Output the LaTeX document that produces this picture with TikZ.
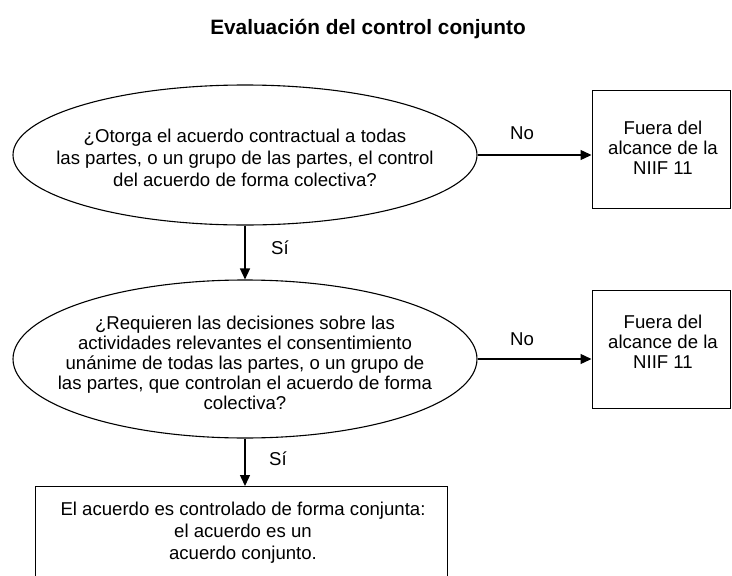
\documentclass[tikz,border=0pt]{standalone}
\usepackage{fontspec}
\setmainfont{Liberation Sans}
\usetikzlibrary{shapes.geometric,arrows.meta}
\begin{document}
\begin{tikzpicture}[x=1pt,y=-1pt,
  txt/.style={font=\fontsize{18.6}{22}\selectfont, align=center, inner sep=0pt},
  question/.style={ellipse, draw, line width=1.1pt, minimum width=464pt, inner sep=0pt},
  outbox/.style={rectangle, draw, line width=1pt, minimum width=138pt, minimum height=118pt, inner sep=0pt},
  flow/.style={line width=1.4pt, -{Triangle[length=11pt,width=10pt]}},
  lbl/.style={font=\fontsize{18.6}{20}\selectfont, inner sep=0pt}]
\useasboundingbox (0,0) rectangle (732,576);
\node[font=\bfseries\fontsize{20.8}{24}\selectfont] (title) at (368,29) {Evaluación del control conjunto};
\node[question, minimum height=140pt] (q1) at (245,155) {};
\node[txt] (q1t) at (245,158) {¿Otorga el acuerdo contractual a todas\\las partes, o un grupo de las partes, el control\\del acuerdo de forma colectiva?};
\node[outbox] (b1) at (661,149) {};
\node[txt, font=\fontsize{18.6}{20}\selectfont] (b1t) at (663,148) {Fuera del\\alcance de la\\NIIF 11};
\node[question, minimum height=158pt] (q2) at (245,359) {};
\node[txt, font=\fontsize{18.6}{20}\selectfont] (q2t) at (245,363) {¿Requieren las decisiones sobre las\\actividades relevantes el consentimiento\\unánime de todas las partes, o un grupo de\\las partes, que controlan el acuerdo de forma\\colectiva?};
\node[outbox] (b2) at (661,349) {};
\node[txt, font=\fontsize{18.6}{20}\selectfont] (b2t) at (663,342) {Fuera del\\alcance de la\\NIIF 11};
\draw[line width=1pt] (35,486) rectangle (447,600);
\coordinate (b3top) at (245,486);
\node[txt] (b3t) at (243,533) {El acuerdo es controlado de forma conjunta:\\el acuerdo es un\\acuerdo conjunto.};
\draw[flow] (q1.east) -- (b1.west |- q1.east);
\draw[flow] (q2.east) -- (b2.west |- q2.east);
\draw[flow] (q1.south) -- (q2.north);
\draw[flow] (q2.south) -- (b3top);
\node[lbl] (no1) at (522,133) {No};
\node[lbl] (no2) at (522,339) {No};
\node[lbl] (si1) at (280,248) {Sí};
\node[lbl] (si2) at (278,459) {Sí};
\end{tikzpicture}
\end{document}
